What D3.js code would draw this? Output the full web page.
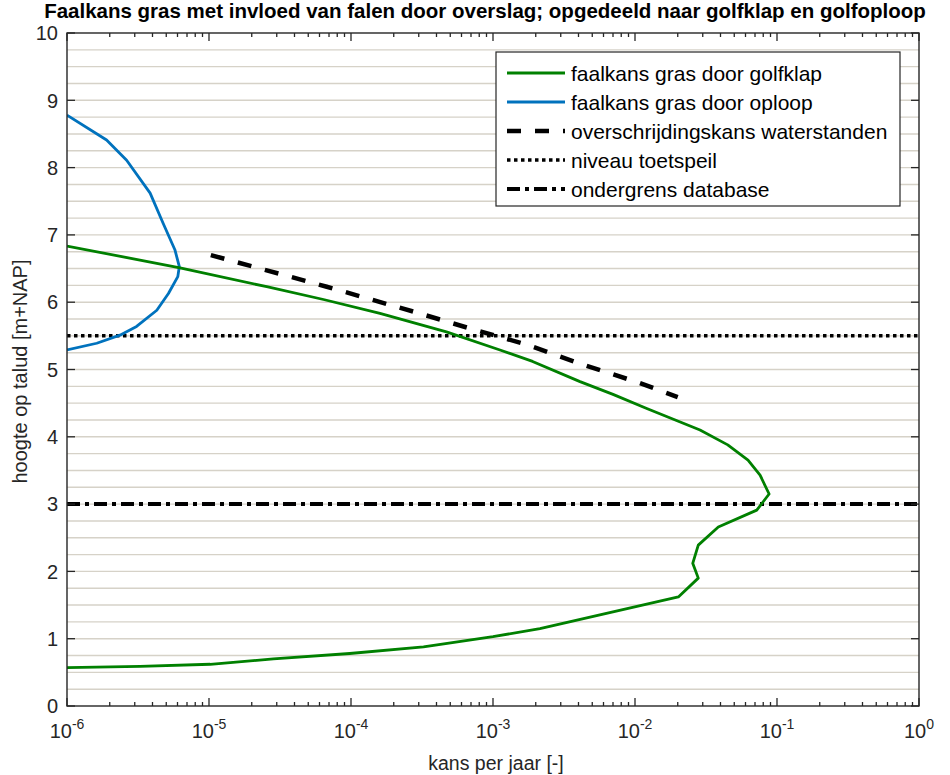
<!DOCTYPE html>
<html>
<head>
<meta charset="utf-8">
<script src="https://cdn.jsdelivr.net/npm/d3@7/dist/d3.min.js"></script>
<style>
  html, body { margin: 0; padding: 0; background: #fff; }
  svg { display: block; font-family: "Liberation Sans", Arial, sans-serif; }
</style>
</head>
<body>
<svg id="chart" width="950" height="775"></svg>
<script>
// Faalkans gras door golfklap: kans per jaar vs hoogte op talud
const golfklapKans = [1e-6, 6.25e-6, 2.55e-5, 6.4e-5, 1.6e-4, 4.7e-4, 1.12e-3, 1.9e-3, 4.1e-3, 7.0e-3, 1.21e-2,
  2.87e-2, 4.5e-2, 6.25e-2, 7.6e-2, 8.8e-2, 7.2e-2, 3.86e-2, 2.79e-2, 2.55e-2, 2.79e-2, 2.02e-2,
  2.14e-3, 1.0e-3, 3.24e-4, 9.8e-5, 2.84e-5, 1.02e-5, 3.27e-6, 1e-6];
const golfklapHoogte = [6.835, 6.51, 6.23, 6.04, 5.835, 5.56, 5.29, 5.12, 4.82, 4.63, 4.42,
  4.10, 3.88, 3.655, 3.43, 3.15, 2.91, 2.66, 2.39, 2.12, 1.90, 1.62,
  1.15, 1.03, 0.88, 0.78, 0.70, 0.62, 0.59, 0.57];

// Faalkans gras door oploop
const oploopKans = [1e-6, 1.9e-6, 2.63e-6, 3.85e-6, 4.76e-6, 5.75e-6, 6.18e-6, 6.03e-6, 5.18e-6,
  4.29e-6, 3.09e-6, 2.36e-6, 1.62e-6, 1e-6];
const oploopHoogte = [8.78, 8.41, 8.11, 7.62, 7.17, 6.78, 6.53, 6.38, 6.13,
  5.88, 5.64, 5.51, 5.39, 5.29];

// Overschrijdingskans waterstanden
const waterKans = [1.03e-5, 6.75e-5, 2.75e-4, 6.89e-4, 1.73e-3, 4.33e-3, 1.08e-2, 2.0e-2];
const waterHoogte = [6.70, 6.23, 5.86, 5.61, 5.37, 5.07, 4.80, 4.59];

// Horizontale referentieniveaus
const toetspeil = 5.5;
const ondergrens = 3.0;

const xTickExponents = [-6, -5, -4, -3, -2, -1, 0];
const yTicks = [0, 1, 2, 3, 4, 5, 6, 7, 8, 9, 10];

const legendLabels = [
  "faalkans gras door golfklap",
  "faalkans gras door oploop",
  "overschrijdingskans waterstanden",
  "niveau toetspeil",
  "ondergrens database"
];

const title = "Faalkans gras met invloed van falen door overslag; opgedeeld naar golfklap en golfoploop";
const xLabel = "kans per jaar [-]";
const yLabel = "hoogte op talud [m+NAP]";

// ---- layout ----
const svg = d3.select("#chart");
const m = { left: 67, right: 919, top: 33, bottom: 706 };
const axisColor = "#262626";
const green = "#008000";
const blue = "#0072bd";
const curveWidth = 2.8;

const x = d3.scaleLog().domain([1e-6, 1]).range([m.left, m.right]);
const y = d3.scaleLinear().domain([0, 10]).range([m.bottom, m.top]);

const defs = svg.append("defs");
defs.append("clipPath").attr("id", "plotClip")
  .append("rect").attr("x", m.left).attr("y", m.top)
  .attr("width", m.right - m.left).attr("height", m.bottom - m.top);

// minor grid every 0.25 m
const gridVals = d3.range(0.25, 10, 0.25);
svg.append("g").selectAll("line").data(gridVals).join("line")
  .attr("x1", m.left).attr("x2", m.right)
  .attr("y1", d => y(d)).attr("y2", d => y(d))
  .attr("stroke", "#d6d2c8").attr("stroke-width", 1.4);

const plot = svg.append("g").attr("clip-path", "url(#plotClip)");

const line = d3.line().x(d => x(d[0])).y(d => y(d[1]));

// reference levels
plot.append("line")
  .attr("x1", m.left).attr("x2", m.right)
  .attr("y1", y(toetspeil)).attr("y2", y(toetspeil))
  .attr("stroke", "#000").attr("stroke-width", 3.5)
  .attr("stroke-dasharray", "3.5,3.5");
plot.append("line")
  .attr("x1", m.left).attr("x2", m.right)
  .attr("y1", y(ondergrens)).attr("y2", y(ondergrens))
  .attr("stroke", "#000").attr("stroke-width", 4)
  .attr("stroke-dasharray", "13,5,4,5");

plot.append("path")
  .datum(d3.zip(waterKans, waterHoogte))
  .attr("d", line).attr("fill", "none")
  .attr("stroke", "#000").attr("stroke-width", 4.5)
  .attr("stroke-dasharray", "14,14");

plot.append("path")
  .datum(d3.zip(oploopKans, oploopHoogte))
  .attr("d", line).attr("fill", "none")
  .attr("stroke", blue).attr("stroke-width", curveWidth).attr("stroke-linejoin", "round");

plot.append("path")
  .datum(d3.zip(golfklapKans, golfklapHoogte))
  .attr("d", line).attr("fill", "none")
  .attr("stroke", green).attr("stroke-width", curveWidth).attr("stroke-linejoin", "round");

// ---- axes box and ticks ----
const axes = svg.append("g");
axes.append("rect")
  .attr("x", m.left).attr("y", m.top)
  .attr("width", m.right - m.left).attr("height", m.bottom - m.top)
  .attr("fill", "none").attr("stroke", axisColor).attr("stroke-width", 1.4);

const majorX = xTickExponents.map(e => Math.pow(10, e));
const minorX = [];
xTickExponents.slice(0, -1).forEach(e => {
  for (let k = 2; k <= 9; k++) minorX.push(k * Math.pow(10, e));
});

function ticksX(vals, len) {
  [m.bottom, m.top].forEach((base, i) => {
    const dir = i === 0 ? -1 : 1;
    axes.append("g").selectAll("line").data(vals).join("line")
      .attr("x1", d => x(d)).attr("x2", d => x(d))
      .attr("y1", base).attr("y2", base + dir * len)
      .attr("stroke", axisColor).attr("stroke-width", 1.3);
  });
}
ticksX(majorX, 8);
ticksX(minorX, 4);

[m.left, m.right].forEach((base, i) => {
  const dir = i === 0 ? 1 : -1;
  axes.append("g").selectAll("line").data(yTicks).join("line")
    .attr("x1", base).attr("x2", base + dir * 8)
    .attr("y1", d => y(d)).attr("y2", d => y(d))
    .attr("stroke", axisColor).attr("stroke-width", 1.3);
});

// y tick labels
svg.append("g").selectAll("text").data(yTicks).join("text")
  .attr("x", m.left - 9).attr("y", d => y(d))
  .attr("dy", "0.36em")
  .attr("text-anchor", "end")
  .attr("font-size", 20).attr("fill", axisColor)
  .text(d => d);

// x tick labels: 10^e
const xl = svg.append("g").selectAll("text").data(xTickExponents).join("text")
  .attr("x", e => x(Math.pow(10, e)))
  .attr("y", 738)
  .attr("text-anchor", "middle")
  .attr("font-size", 20).attr("fill", axisColor);
xl.append("tspan").text("10");
xl.append("tspan").attr("dy", -9).attr("font-size", 14).text(e => e);

// axis titles
svg.append("text")
  .attr("x", (m.left + m.right) / 2 + 3).attr("y", 770)
  .attr("text-anchor", "middle").attr("font-size", 19.5).attr("fill", axisColor)
  .text(xLabel);
svg.append("text")
  .attr("transform", `translate(27,${(m.top + m.bottom) / 2 + 2}) rotate(-90)`)
  .attr("text-anchor", "middle").attr("font-size", 20).attr("fill", axisColor)
  .text(yLabel);

// title
svg.append("text")
  .attr("x", 485).attr("y", 18)
  .attr("text-anchor", "middle").attr("font-size", 20.5).attr("font-weight", "bold")
  .attr("fill", "#000")
  .text(title);

// ---- legend ----
const lg = svg.append("g");
lg.append("rect")
  .attr("x", 496).attr("y", 52).attr("width", 404).attr("height", 154)
  .attr("fill", "#fff").attr("stroke", axisColor).attr("stroke-width", 1.2);

const legendStyles = [
  { stroke: green, width: curveWidth, dash: null },
  { stroke: blue, width: curveWidth, dash: null },
  { stroke: "#000", width: 4.5, dash: "14,14" },
  { stroke: "#000", width: 3.5, dash: "3.5,3.5" },
  { stroke: "#000", width: 4, dash: "13,5,4,5" }
];
const rowY = i => 73 + i * 29;
legendLabels.forEach((lab, i) => {
  const s = legendStyles[i];
  const ln = lg.append("line")
    .attr("x1", 507).attr("x2", 565)
    .attr("y1", rowY(i)).attr("y2", rowY(i))
    .attr("stroke", s.stroke).attr("stroke-width", s.width);
  if (s.dash) ln.attr("stroke-dasharray", s.dash);
  lg.append("text")
    .attr("x", 571).attr("y", rowY(i)).attr("dy", "0.36em")
    .attr("font-size", 21).attr("fill", "#000")
    .text(lab);
});
</script>
</body>
</html>
